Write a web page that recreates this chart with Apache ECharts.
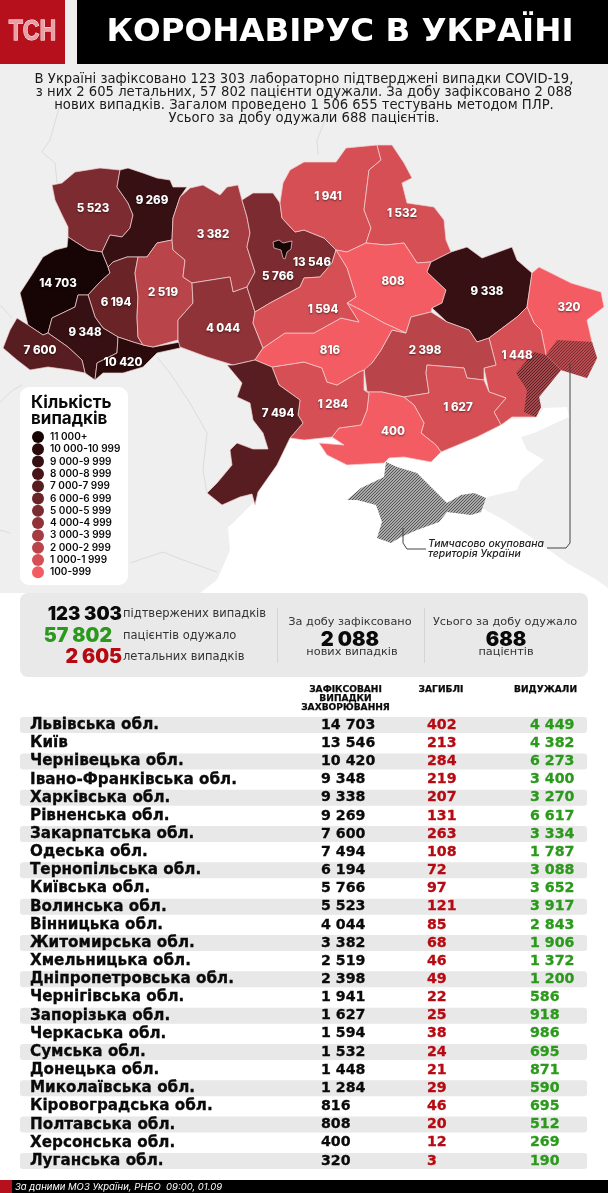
<!DOCTYPE html>
<html>
<head>
<meta charset="utf-8">
<script src="https://cdn.jsdelivr.net/npm/echarts@6/dist/echarts.min.js"></script>
<style>
html,body{margin:0;padding:0;background:#fff}
#main{width:608px;height:1193px}
</style>
</head>
<body>
<div id="main"></div>
<script>
var FONT = 'Inter, "Noto Sans", sans-serif';
var WIDE = '"DejaVu Sans", sans-serif';

// table values
var regionNames = ['Львівська обл.','Київ','Чернівецька обл.','Івано-Франківська обл.','Харківська обл.','Рівненська обл.','Закарпатська обл.','Одеська обл.','Тернопільська обл.','Київська обл.','Волинська обл.','Вінницька обл.','Житомирська обл.','Хмельницька обл.','Дніпропетровська обл.','Чернігівська обл.','Запорізька обл.','Черкаська обл.','Сумська обл.','Донецька обл.','Миколаївська обл.','Кіровоградська обл.','Полтавська обл.','Херсонська обл.','Луганська обл.'];
var cases = [14703,13546,10420,9348,9338,9269,7600,7494,6194,5766,5523,4044,3382,2519,2398,1941,1627,1594,1532,1448,1284,816,808,400,320];
var deaths = [402,213,284,219,207,131,263,108,72,97,121,85,68,46,49,22,25,38,24,21,29,46,20,12,3];
var recovered = [4449,4382,6273,3400,3270,6617,3334,1787,3088,3652,3917,2843,1906,1372,1200,586,918,986,695,871,590,695,512,269,190];

// legend
var legendLabels = ['11 000+','10 000-10 999','9 000-9 999','8 000-8 999','7 000-7 999','6 000-6 999','5 000-5 999','4 000-4 999','3 000-3 999','2 000-2 999','1 000-1 999','100-999'];
var legendFrom = [11000,10000,9000,8000,7000,6000,5000,4000,3000,2000,1000,100];
var legendColors = ['#170405','#2b0a0c','#361013','#471518','#581d20','#6a2427','#7c2c30','#8f3338','#a53c41','#b9454a','#d54f55','#f25c62'];

var introLines = [
    'В Україні зафіксовано 123 303 лабораторно підтверджені випадки COVID-19,',
    'з них 2 605 летальних, 57 802 пацієнти одужали. За добу зафіксовано 2 088',
    'нових випадків. Загалом проведено 1 506 655 тестувань методом ПЛР.',
    'Усього за добу одужали 688 пацієнтів.'
];

// oblast outlines (x, y in page pixels)
var regionShapes = {
    'Волинська обл.': [[52,185],[62,183],[75,172],[100,168],[120,170],[117,187],[128,203],[133,215],[130,228],[122,237],[110,235],[102,252],[88,250],[68,237],[68,227],[62,215],[55,200]],
    'Рівненська обл.': [[120,170],[128,168],[143,173],[157,178],[170,180],[173,187],[187,187],[180,197],[173,218],[172,240],[157,243],[147,257],[138,257],[127,257],[113,262],[108,267],[103,255],[102,252],[110,235],[122,237],[130,228],[133,215],[128,203],[117,187]],
    'Львівська обл.': [[68,237],[88,250],[102,252],[103,255],[108,267],[110,273],[100,282],[88,295],[78,295],[75,307],[52,318],[48,333],[43,335],[28,325],[20,293],[33,273],[43,257],[55,250],[67,247]],
    'Тернопільська обл.': [[110,273],[108,267],[113,262],[127,257],[138,257],[135,273],[138,297],[137,317],[138,337],[143,345],[133,342],[118,337],[103,328],[95,317],[88,295],[100,282]],
    'Івано-Франківська обл.': [[88,295],[95,317],[103,328],[118,337],[117,353],[97,363],[95,380],[85,373],[82,360],[68,347],[48,333],[52,318],[75,307],[78,295]],
    'Закарпатська обл.': [[17,318],[28,325],[43,335],[48,333],[68,347],[82,360],[85,373],[70,370],[48,367],[30,370],[17,360],[3,348],[10,330]],
    'Чернівецька обл.': [[118,337],[133,342],[143,345],[153,347],[180,342],[180,348],[157,353],[143,367],[123,373],[103,373],[95,380],[97,363],[117,353]],
    'Хмельницька обл.': [[138,257],[147,257],[157,243],[172,240],[173,250],[185,260],[183,277],[192,283],[193,303],[178,320],[178,340],[153,347],[143,345],[138,337],[137,317],[138,297],[135,273]],
    'Житомирська обл.': [[180,197],[190,188],[203,185],[220,195],[227,187],[238,185],[242,200],[247,217],[250,233],[247,247],[255,272],[247,287],[233,292],[230,277],[192,283],[183,277],[185,260],[173,250],[172,240],[173,218]],
    'Вінницька обл.': [[192,283],[230,277],[233,292],[247,287],[255,312],[253,323],[263,348],[255,360],[233,365],[207,357],[180,347],[178,340],[178,320],[193,303]],
    'Київська обл.': [[242,200],[253,193],[273,193],[280,203],[282,218],[295,232],[304,230],[324,238],[336,250],[332,263],[320,277],[304,278],[300,287],[270,303],[255,312],[247,287],[255,272],[247,247],[250,233],[247,217]],
    'Київ': [[273,242],[279,240],[283,243],[292,241],[291,249],[287,252],[285,259],[283,258],[281,250],[274,248]],
    'Чернігівська обл.': [[280,203],[283,183],[290,170],[304,162],[336,162],[346,148],[377,145],[381,160],[369,170],[364,210],[371,228],[366,243],[347,252],[336,250],[324,238],[304,230],[295,232],[282,218]],
    'Сумська обл.': [[377,145],[392,145],[404,163],[412,178],[402,183],[407,203],[434,207],[444,220],[446,240],[451,252],[431,262],[417,263],[404,243],[386,245],[366,243],[371,228],[364,210],[369,170],[381,160]],
    'Полтавська обл.': [[336,250],[347,252],[366,243],[386,245],[404,243],[417,263],[431,262],[427,272],[446,290],[442,303],[432,308],[431,312],[411,317],[406,333],[384,323],[361,310],[347,303],[356,297],[347,268]],
    'Харківська обл.': [[431,262],[451,252],[467,247],[482,258],[512,247],[517,260],[532,273],[527,307],[517,317],[489,338],[477,342],[469,330],[447,322],[432,308],[442,303],[446,290],[427,272]],
    'Луганська обл.': [[532,273],[539,267],[571,283],[601,292],[604,307],[587,320],[592,342],[597,358],[587,378],[561,370],[546,355],[541,330],[534,323],[527,307]],
    'Донецька обл.': [[489,338],[517,317],[527,307],[534,323],[541,330],[546,355],[561,370],[539,397],[541,407],[536,417],[512,417],[501,425],[494,412],[506,398],[489,392],[484,368],[496,365]],
    'Дніпропетровська обл.': [[406,333],[411,317],[431,312],[447,322],[469,330],[477,342],[489,338],[496,365],[484,368],[484,380],[467,378],[464,368],[427,365],[426,373],[429,393],[404,397],[382,392],[367,392],[364,368],[372,363],[381,350],[392,330]],
    'Запорізька обл.': [[429,393],[426,373],[427,365],[464,368],[467,378],[484,380],[489,392],[506,398],[494,412],[501,425],[477,437],[441,452],[436,445],[421,433],[424,423],[414,405],[404,397]],
    'Херсонська обл.': [[367,392],[382,392],[404,397],[414,405],[424,423],[421,433],[436,445],[441,452],[431,462],[404,457],[389,458],[384,463],[347,465],[327,455],[319,443],[344,445],[332,437],[339,428],[361,425],[367,410],[369,393]],
    'Миколаївська обл.': [[272,367],[304,362],[322,368],[327,382],[337,385],[359,372],[364,370],[364,390],[367,392],[369,393],[367,410],[361,425],[339,428],[332,437],[304,440],[290,438],[303,423],[298,415],[300,400],[293,395],[279,385]],
    'Кіровоградська обл.': [[255,360],[263,348],[285,333],[314,333],[341,318],[359,322],[347,303],[361,310],[384,323],[406,333],[392,330],[381,350],[372,363],[364,370],[359,372],[337,385],[327,382],[322,368],[304,362],[272,367]],
    'Черкаська обл.': [[255,312],[270,303],[300,287],[304,278],[320,277],[332,263],[336,250],[347,268],[356,297],[347,303],[359,322],[341,318],[314,333],[285,333],[263,348],[253,323]],
    'Одеська обл.': [[227,365],[233,365],[255,360],[272,367],[279,385],[293,395],[300,400],[298,415],[303,423],[290,438],[277,465],[258,492],[255,505],[252,494],[240,497],[222,505],[207,493],[217,483],[232,465],[230,450],[237,443],[253,449],[268,449],[263,433],[253,420],[250,403],[237,397],[242,383]]
};
// where each number sits on the map
var labelAnchors = {
    'Волинська обл.': [93,209], 'Рівненська обл.': [152,201], 'Львівська обл.': [58,284], 'Тернопільська обл.': [116,303],
    'Івано-Франківська обл.': [85,333], 'Закарпатська обл.': [40,351], 'Чернівецька обл.': [123,363], 'Хмельницька обл.': [163,293],
    'Житомирська обл.': [213,235], 'Вінницька обл.': [223,329], 'Київська обл.': [278,277], 'Київ': [312,263],
    'Чернігівська обл.': [328,197], 'Сумська обл.': [402,214], 'Полтавська обл.': [393,282], 'Харківська обл.': [487,292],
    'Луганська обл.': [569,308], 'Донецька обл.': [517,356], 'Дніпропетровська обл.': [425,351], 'Запорізька обл.': [458,408],
    'Херсонська обл.': [393,432], 'Миколаївська обл.': [333,405], 'Кіровоградська обл.': [330,351], 'Черкаська обл.': [323,310],
    'Одеська обл.': [278,414]
};
var occupiedShapes = {
    'Донецьк ТОТ': [[516,373],[534,352],[546,355],[561,370],[539,397],[541,407],[536,417],[524,412],[527,390]],
    'Луганськ ТОТ': [[546,355],[557,340],[592,342],[597,358],[587,378],[561,370]],
    'Крим': [[347,500],[361,488],[384,477],[386,462],[397,467],[417,473],[447,503],[461,495],[474,493],[486,498],[481,512],[471,515],[447,512],[439,522],[417,530],[401,537],[391,543],[377,538],[382,522],[376,505],[357,500]]
};
var occupiedColors = {'Донецьк ТОТ':['#a3484c','#5f2023'],'Луганськ ТОТ':['#b64b50','#7c2c30'],'Крим':['#aaaaaa','#555555']};
var backgroundShapes = {
    'Суходіл': [[0,0],[608,0],[608,593],[0,593]],
    'Море': [[200,593],[217,580],[230,550],[228,527],[233,523],[253,503],[270,470],[290,436],[340,440],[430,450],[505,420],[537,417],[544,408],[567,407],[569,417],[534,433],[521,437],[527,450],[544,460],[521,480],[517,490],[487,497],[482,508],[504,520],[531,537],[567,563],[597,580],[608,588],[608,593]]
};
var borderLines = [
    [[68,75],[50,140],[42,152],[55,163],[57,183]],
    [[330,80],[340,92],[325,120],[317,140],[318,155]],
    [[0,305],[12,318]],
    [[157,357],[170,373],[190,403],[207,433],[203,470],[207,493]],
    [[0,402],[13,390],[22,385]],
    [[0,530],[10,533]],
    [[130,563],[163,552],[183,560],[217,572]]
];
var calloutLines = [
    [[403,528],[403,543],[407,549],[426,549]],
    [[570,364],[570,543],[566,548],[547,548]]
];

function toGeo(pt) { return [pt[0], -pt[1]]; }
function toGeoJson(shapes) {
    var features = [];
    for (var name in shapes) {
        var ring = shapes[name].map(toGeo);
        ring.push(ring[0]);
        features.push({type: 'Feature', properties: {name: name}, geometry: {type: 'Polygon', coordinates: [ring]}});
    }
    return {type: 'FeatureCollection', features: features};
}
echarts.registerMap('background', toGeoJson(backgroundShapes));
echarts.registerMap('ukraine', toGeoJson(regionShapes));
echarts.registerMap('occupied', toGeoJson(occupiedShapes));

function spaced(v) { return String(v).replace(/\B(?=(\d{3})+$)/g, ' '); }

// thin diagonal hatch used on the occupied territories
function hatch(colors) {
    var c = document.createElement('canvas');
    c.width = c.height = 3;
    var ctx = c.getContext('2d');
    ctx.fillStyle = colors[0];
    ctx.fillRect(0, 0, 3, 3);
    ctx.fillStyle = colors[1];
    ctx.fillRect(2, 0, 1, 1);
    ctx.fillRect(1, 1, 1, 1);
    ctx.fillRect(0, 2, 1, 1);
    return {image: c, repeat: 'repeat'};
}

var pageBounds = [[0,0],[608,-1193]];

function txt(x, y, text, size, weight, fill, align, extra) {
    var style = {x:x, y:y, text:text, fontSize:size, fontWeight:weight, fontFamily:FONT, fill:fill,
        textAlign:align || 'left', textVerticalAlign:'middle'};
    for (var k in extra) style[k] = extra[k];
    return {type:'text', z:20, silent:true, style:style};
}
function box(x, y, w, h, fill, r, z) {
    return {type:'rect', z:z === undefined ? 20 : z, silent:true, shape:{x:x,y:y,width:w,height:h,r:r||0}, style:{fill:fill}};
}

var GREEN = '#2b9a1c', RED = '#b50a12', BLACK = '#0a0a0a', GREY_TEXT = '#333333';
var wide = {fontFamily: WIDE};
var heavy = {fontFamily: WIDE, stroke: BLACK, lineWidth: 0.25};

var logo = {type:'text', z:21, silent:true, x:32.5, y:32, scaleX:0.8,
    style:{x:0, y:0, text:'ТСН', fontSize:29, fontWeight:'bold', fontFamily:'"Liberation Sans", sans-serif',
        fill:'#e8a0a5', stroke:'#ffffff', lineWidth:1, textAlign:'center', textVerticalAlign:'middle'}};

var graphics = [
    box(0,0,65,64,'#b5101c'),
    box(77,0,531,64,'#000000'),
    logo,
    txt(340,33,'КОРОНАВІРУС В УКРАЇНІ',32.5,700,'#ffffff','center',wide),
    box(20,387,108,198,'#ffffff',9,1),
    txt(31,403,'Кількість',17,700,BLACK),
    txt(31,419,'випадків',17,700,BLACK),
    txt(428,544,'Тимчасово окупована',10.4,500,'#222222','left',{fontStyle:'italic'}),
    txt(428,554,'територія України',10.4,500,'#222222','left',{fontStyle:'italic'}),
    box(20,593,568,84,'#e9e9e9',8),
    txt(122,614,'123 303',18.5,900,BLACK,'right'),
    txt(123,614,'підтвержених випадків',11.5,400,GREY_TEXT,'left',wide),
    txt(112,636,'57 802',19.5,900,GREEN,'right'),
    txt(123,636,'пацієнтів одужало',11.5,400,GREY_TEXT,'left',wide),
    txt(122,657,'2 605',19.5,900,RED,'right'),
    txt(123,657,'летальних випадків',11.5,400,GREY_TEXT,'left',wide),
    box(277,608,1,55,'#d4d4d4'),
    box(424,608,1,55,'#d4d4d4'),
    txt(350,622,'За добу зафіксовано',11.3,400,GREY_TEXT,'center',wide),
    txt(350,640,'2 088',20,900,BLACK,'center'),
    txt(352,652,'нових випадків',11.3,400,GREY_TEXT,'center',wide),
    txt(505,622,'Усього за добу одужало',11.3,400,GREY_TEXT,'center',wide),
    txt(506,640,'688',20,900,BLACK,'center'),
    txt(506,652,'пацієнтів',11.3,400,GREY_TEXT,'center',wide),
    txt(345.5,690,'ЗАФІКСОВАНІ',9.1,700,BLACK,'center',heavy),
    txt(345.5,699,'ВИПАДКИ',9.1,700,BLACK,'center',heavy),
    txt(345.5,708,'ЗАХВОРЮВАННЯ',9.1,700,BLACK,'center',heavy),
    txt(441,690,'ЗАГИБЛІ',9.1,700,BLACK,'center',heavy),
    txt(545.5,690,'ВИДУЖАЛИ',9.1,700,BLACK,'center',heavy),
    box(0,1180,12,13,'#b5101c'),
    box(12,1180,596,13,'#000000'),
    txt(15,1187,'За даними МОЗ України, РНБО  09:00, 01.09',9.5,400,'#ffffff','left',{fontStyle:'italic'})
];
introLines.forEach(function (line, i) {
    graphics.push(txt(304, 80 + i * 13, line, 13.2, 400, '#1a1a1a', 'center', wide));
});

// table columns go through a category axis so each row gets its own band
function rowStripe(params, api) {
    if (params.dataIndex % 2) return null;
    var c = api.coord([0, api.value(1)]);
    return {type:'rect', shape:{x:20, y:c[1]-8, width:567, height:16, r:3}, style:{fill:'#e8e8e8'}};
}
function tableColumn(x, values, color, size) {
    return {
        type:'custom', xAxisIndex:0, yAxisIndex:0, silent:true, z:5,
        data: values.map(function (v, i) { return [x, regionNames[i]]; }),
        renderItem: function (params, api) {
            var c = api.coord([api.value(0), api.value(1)]);
            var v = values[params.dataIndex];
            return {type:'text', style:{x:c[0], y:c[1], text: typeof v === 'number' ? spaced(v) : v,
                fontSize:size, fontWeight:700, fontFamily:WIDE, fill:color, stroke:color, lineWidth:0.3, textVerticalAlign:'middle'}};
        }
    };
}

var myChart = echarts.init(document.getElementById('main'), null, {renderer:'canvas'});

var option = {
    animation:false,
    backgroundColor:'#ffffff',
    graphic:{elements:graphics},
    geo:{
        map:'background', silent:true, roam:false, aspectScale:1, boundingCoords:pageBounds,
        left:0, top:0, width:608, height:1193, z:0,
        itemStyle:{areaColor:'#efefef', borderWidth:0},
        regions:[{name:'Море', itemStyle:{areaColor:'#ffffff', borderWidth:0}}],
        label:{show:false}
    },
    visualMap:{
        type:'piecewise', seriesIndex:0, left:17, top:416, orient:'vertical', z:5,
        hoverLink:false, selectedMode:false, itemSymbol:'circle', itemWidth:14, itemHeight:12, itemGap:0.3, textGap:5,
        align:'left',
        textStyle:{fontFamily:FONT, fontSize:10, fontWeight:600, color:BLACK},
        pieces: legendLabels.map(function (label, i) {
            var piece = {label:label, gte:legendFrom[i], color:legendColors[i]};
            if (i > 0) piece.lt = legendFrom[i - 1];
            return piece;
        })
    },
    grid:{left:0, width:608, top:716, height:454, containLabel:false},
    xAxis:{type:'value', min:0, max:608, show:false},
    yAxis:{type:'category', inverse:true, data:regionNames, show:false},
    series:[
        {
            type:'map', map:'ukraine', silent:true, roam:false, aspectScale:1, boundingCoords:pageBounds,
            left:0, top:0, width:608, height:1193, z:2, selectedMode:false,
            itemStyle:{borderColor:'#f4d3d3', borderWidth:0.7},
            label:{show:false},
            emphasis:{disabled:true},
            data: regionNames.map(function (name, i) { return {name:name, value:cases[i]}; })
        },
        {
            type:'map', map:'occupied', silent:true, roam:false, aspectScale:1, boundingCoords:pageBounds,
            left:0, top:0, width:608, height:1193, z:3, selectedMode:false,
            label:{show:false}, emphasis:{disabled:true},
            itemStyle:{borderWidth:0},
            data: Object.keys(occupiedShapes).map(function (name) {
                return {name:name, itemStyle:{areaColor:hatch(occupiedColors[name])}};
            })
        },
        {
            type:'lines', coordinateSystem:'geo', polyline:true, silent:true, z:1,
            lineStyle:{color:'#dcdcdc', width:1, opacity:1},
            data: borderLines.map(function (l) { return {coords:l.map(toGeo)}; })
        },
        {
            type:'lines', coordinateSystem:'geo', polyline:true, silent:true, z:6,
            symbol:['circle','none'], symbolSize:3,
            lineStyle:{color:'#444444', width:1, opacity:1},
            data: calloutLines.map(function (l) { return {coords:l.map(toGeo)}; })
        },
        {
            // case counts on the map, above the hatching
            type:'scatter', coordinateSystem:'geo', silent:true, z:7, symbolSize:1,
            itemStyle:{color:'transparent'},
            label:{show:true, position:'inside', color:'#ffffff', fontFamily:FONT, fontSize:11.5, fontWeight:800, opacity:1,
                textShadowColor:'rgba(0,0,0,0.55)', textShadowBlur:2, textShadowOffsetY:1,
                formatter:function (p) { return spaced(p.value[2]); }},
            data: regionNames.map(function (name, i) {
                return {name:name, value:toGeo(labelAnchors[name]).concat(cases[i])};
            })
        },
        {
            type:'custom', xAxisIndex:0, yAxisIndex:0, silent:true, z:4,
            data: regionNames.map(function (name) { return [0, name]; }),
            renderItem: rowStripe
        },
        tableColumn(30, regionNames, BLACK, 15.2),
        tableColumn(321, cases, BLACK, 14.2),
        tableColumn(427, deaths, RED, 14.2),
        tableColumn(530, recovered, GREEN, 14.2)
    ]
};
myChart.setOption(option);
</script>
</body>
</html>
